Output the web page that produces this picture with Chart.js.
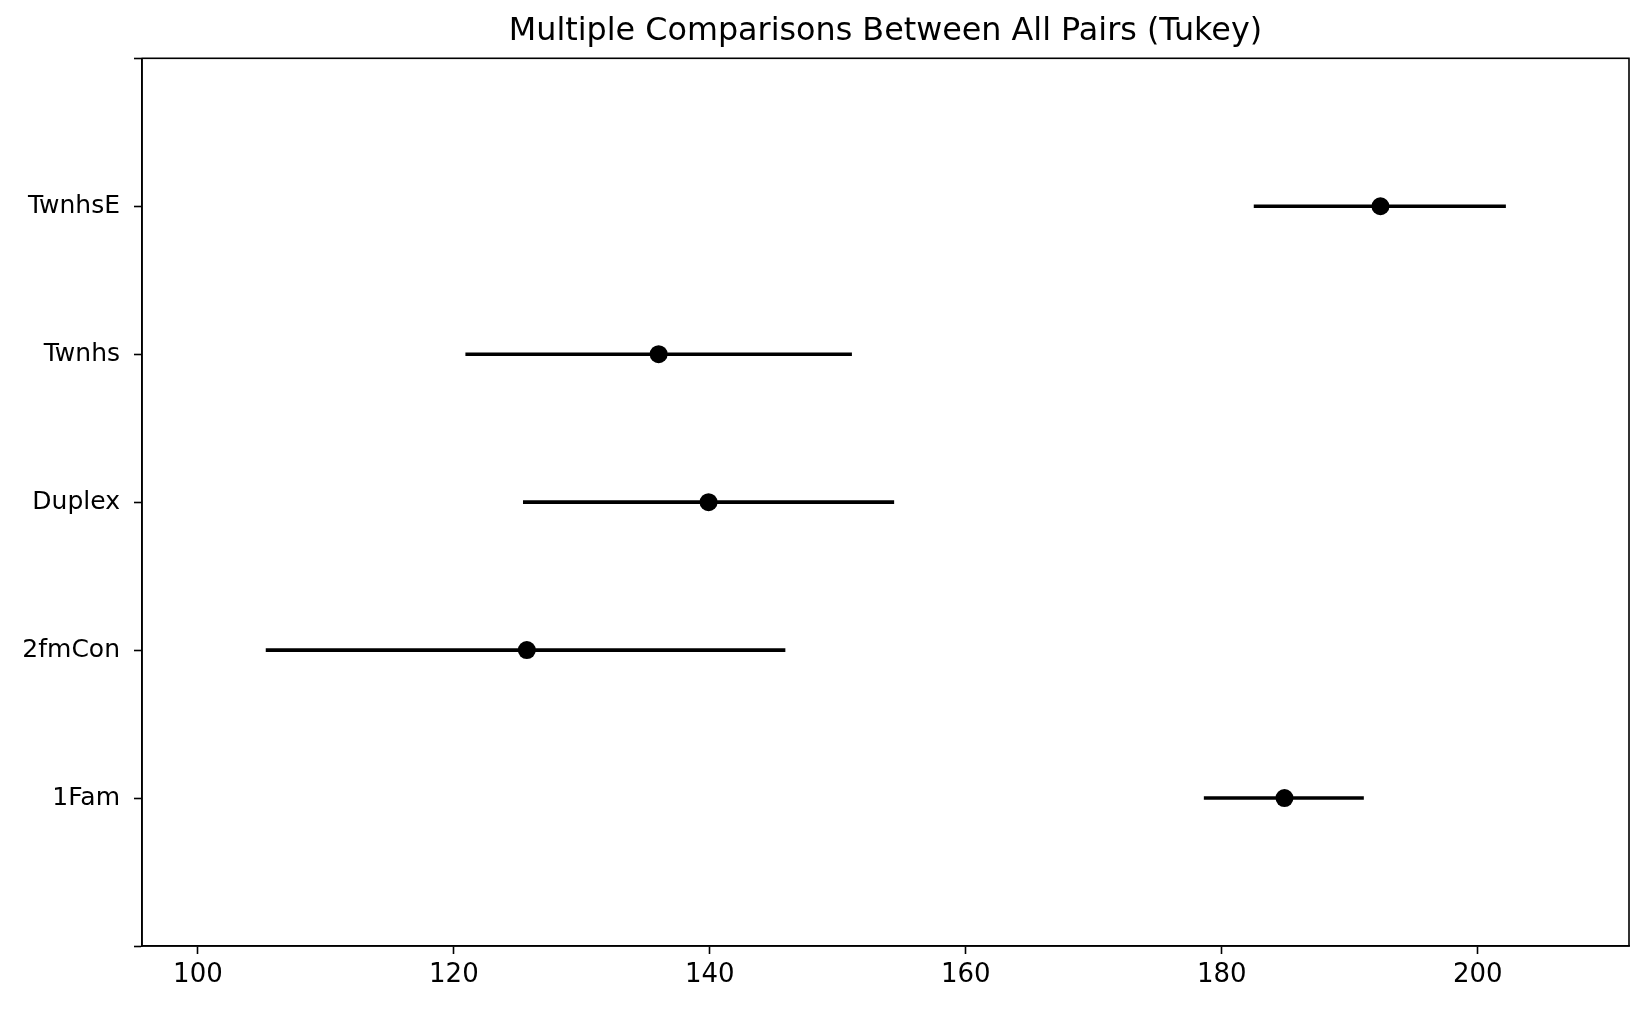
<!DOCTYPE html>
<html>
<head>
<meta charset="utf-8">
<script src="https://cdn.jsdelivr.net/npm/chart.js@4"></script>
<style>
  html, body { margin: 0; padding: 0; background: #fff; }
  #wrap { width: 1649px; height: 1010px; }
</style>
</head>
<body>
<div id="wrap"><canvas id="grafico" width="1649" height="1010"></canvas></div>
<script>
// grupos (de abajo hacia arriba) y sus intervalos de Tukey
const groups = ["1Fam", "2fmCon", "Duplex", "Twnhs", "TwnhsE"];
const means  = [184.9, 125.7, 139.9, 136.0, 192.4];
const lower  = [178.6, 105.3, 125.4, 120.9, 182.5];
const upper  = [191.1, 145.9, 154.4, 151.1, 202.2];
const xTicks = [100, 120, 140, 160, 180, 200];
const titulo = "Multiple Comparisons Between All Pairs (Tukey)";

window.addEventListener("load", () => {
    const ctx = document.querySelector("#grafico").getContext("2d");

    // una línea por grupo para el intervalo
    const intervalSets = groups.map((g, i) => ({
        type: "line",
        label: g,
        data: [{ x: lower[i], y: i }, { x: upper[i], y: i }],
        showLine: true,
        borderColor: "#000",
        borderWidth: 3.6,
        pointRadius: 0,
        fill: false,
    }));

    const meanSet = {
        type: "scatter",
        label: "mean",
        data: groups.map((g, i) => ({ x: means[i], y: i })),
        backgroundColor: "#000",
        borderColor: "#000",
        pointRadius: 9,
        borderWidth: 0,
    };

    // marco completo + título centrado sobre el área del gráfico
    const frame = {
        id: "frame",
        afterDraw(chart) {
            const a = chart.chartArea;
            const c = chart.ctx;
            c.save();
            c.strokeStyle = "#000";
            c.lineWidth = 1.6;
            c.strokeRect(a.left, a.top, a.right - a.left, a.bottom - a.top);
            c.fillStyle = "#000";
            c.font = "31.8px 'DejaVu Sans'";
            c.textAlign = "center";
            c.textBaseline = "alphabetic";
            c.fillText(titulo, (a.left + a.right) / 2, 40);
            c.restore();
        },
    };

    new Chart(ctx, {
        data: { datasets: [...intervalSets, meanSet] },
        options: {
            responsive: false,
            animation: false,
            layout: { padding: { left: 0, right: 20, top: 58.3, bottom: 0 } },
            plugins: {
                legend: { display: false },
                tooltip: { enabled: false },
                title: { display: false },
            },
            scales: {
                x: {
                    type: "linear",
                    min: 95.63,
                    max: 211.82,
                    afterBuildTicks: (s) => { s.ticks = xTicks.map(v => ({ value: v })); },
                    afterFit: (s) => { s.height = 64; },
                    grid: { drawOnChartArea: false, drawTicks: true, tickLength: 8, tickWidth: 1.6, tickColor: "#000" },
                    border: { display: true, color: "#000", width: 1.6 },
                    ticks: {
                        color: "#000",
                        padding: 6,
                        maxRotation: 0,
                        font: { family: "DejaVu Sans", size: 26 },
                    },
                },
                y: {
                    type: "linear",
                    min: -1,
                    max: 5,
                    afterFit: (s) => { s.width = 142; },
                    grid: { drawOnChartArea: false, drawTicks: true, tickLength: 8, tickWidth: 1.6, tickColor: "#000" },
                    border: { display: true, color: "#000", width: 1.6 },
                    ticks: {
                        stepSize: 1,
                        color: "#000",
                        padding: 14,
                        font: { family: "DejaVu Sans", size: 25 },
                        callback: (v) => (groups[v] !== undefined ? groups[v] : ""),
                    },
                },
            },
        },
        plugins: [frame],
    });
});
</script>
</body>
</html>
